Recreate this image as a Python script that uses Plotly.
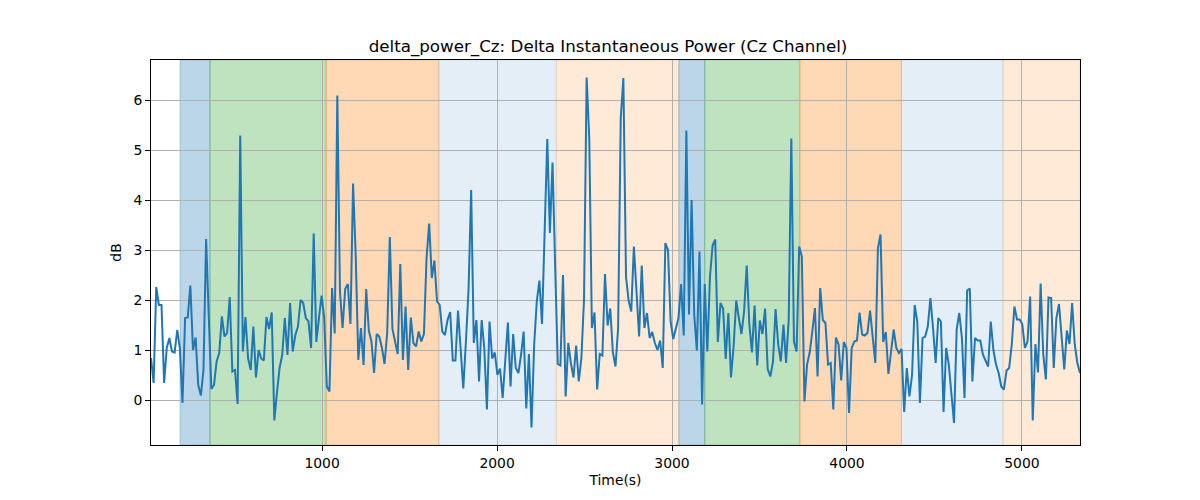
import plotly.graph_objects as go

# Sampling grid of the signal (seconds)
t_start = 22
t_step = 15

# delta power values (dB)
values = [
    0.84, 0.34, 2.26, 1.9, 1.9, 0.34, 1.04, 1.24, 0.97, 0.95, 1.4, 1.04, -0.06, 1.64, 1.65, 2.29, 1.0, 1.25, 0.3, 0.09,
    0.6, 3.22, 1.7, 0.22, 0.3, 0.77, 0.94, 1.67, 1.27, 1.34, 2.06, 0.57, 0.6, -0.08, 5.29, 0.97, 1.66, 0.83, 0.6, 1.47,
    0.45, 1.0,
    0.83, 0.79, 1.66, 1.42, 1.75, -0.41, 0.15, 0.64, 0.9, 1.64, 0.9, 1.94, 0.97, 1.3, 1.47, 2.0, 1.94, 1.64, 1.57, 1.04,
    3.33, 1.16, 1.64, 2.09, 1.64, 0.27, 0.17, 2.24, 1.33, 6.09, 2.17, 1.44, 2.22, 2.32, 1.52, 4.33, 2.9, 0.8, 1.44, 0.7,
    2.22,
    1.39, 1.17, 0.54, 1.32, 1.27, 1.04, 0.72, 1.34, 3.26, 1.42, 1.14, 0.92, 2.72, 0.8, 1.87, 0.6, 1.65, 1.14, 1.07, 1.37,
    1.17, 1.32, 2.84, 3.53, 2.44, 2.79, 1.97, 1.9, 1.37, 1.3, 1.6, 1.76, 0.79, 0.79, 1.79, 1.04, 0.23, 1.17, 2.2, 4.2,
    1.14, 1.6,
    0.37, 1.6, 1.04, -0.19, 1.57, 0.83, 0.95, 0.5, 0.63, 0.04, 0.9, 1.55, 0.27, 1.32, 0.64, 0.54, 0.9, 1.37, -0.17, 0.92,
    -0.55, 1.1, 1.97, 2.39, 1.52, 3.3, 5.22, 3.34, 4.75, 2.7, 0.72, 0.69, 2.5, 0.07, 1.14, 0.74, 0.45, 1.09, 0.37, 0.84,
    2.0, 6.45,
    5.24, 1.44, 1.75, 0.21, 0.92, 0.89, 2.52, 1.49, 1.83, 0.95, 0.67, 1.44, 5.64, 6.44, 2.47, 1.99, 1.77, 3.07, 2.24, 1.27,
    2.69, 1.44, 1.74, 1.24, 1.36, 1.14, 1.0, 1.19, 0.64, 3.14, 3.0, 1.57, 1.22, 1.43, 1.64, 2.32, 1.29, 5.39, 1.71, 4.0,
    1.7, 0.99,
    2.97, -0.09, 2.32, 0.97, 2.47, 3.09, 3.21, 1.16, 1.94, 1.83, 0.82, 1.74, 0.45, 1.07, 1.99, 1.64, 1.32, 1.77, 2.69, 1.52,
    0.95, 1.89, 0.69, 1.59, 1.32, 1.83, 0.62, 0.47, 0.76, 1.82, 1.11, 0.77, 1.51, 0.74, 1.61, 5.23, 1.17, 0.97, 3.07, 2.87,
    -0.03, 0.71,
    0.95, 1.37, 1.84, 0.47, 2.24, 1.6, 1.54, 0.71, 0.74, -0.19, 1.25, 1.11, 0.39, 1.16, 1.04, -0.26, 1.04, 1.17, 1.19, 1.75,
    1.31, 1.29, 1.34, 1.79, 1.24, 0.74, 3.04, 3.31, 1.16, 1.36, 0.52, 1.0, 1.41, 1.04, 0.94, 1.02, -0.24, 0.64, 0.07, 0.5,
    1.9, 1.57, -0.06,
    1.24, 1.27, 1.47, 2.04, 1.44, 0.74, 1.64, 1.57, -0.24, 1.04, 0.71, 0.11, -0.46, 1.41, 1.74, 1.24, 0.04, 2.19, 2.23, 0.37,
    1.24, 1.19, 1.19, 0.91, 0.77, 0.67, 1.57, 1.0, 0.71, 0.54, 0.27, 0.21, 0.59, 0.64, 1.11, 1.87, 1.61, 1.61, 1.52, 1.04,
    1.17,
    2.07, -0.41, 1.12, 0.55, 2.33, 0.91, 0.41, 2.05, 2.04, 0.64, 1.64, 1.92, 1.21, 0.61, 1.39, 1.12, 1.94, 1.11, 0.74, 0.54,
]
times = [t_start + i * t_step for i in range(len(values))]

# Shaded stage intervals (seconds) and their fill colours
span_starts = [188, 359, 1023, 1667, 2339, 3039, 3187, 3731, 4311, 4892]
span_ends = [359, 1023, 1667, 2339, 3039, 3187, 3731, 4311, 4892, 5332]
span_colors = [
    "rgba(31,119,180,0.3)", "rgba(44,160,44,0.3)", "rgba(255,127,14,0.3)",
    "rgba(31,119,180,0.12)", "rgba(255,127,14,0.16)",
    "rgba(31,119,180,0.3)", "rgba(44,160,44,0.3)", "rgba(255,127,14,0.3)",
    "rgba(31,119,180,0.12)", "rgba(255,127,14,0.16)",
]

x_ticks = [1000, 2000, 3000, 4000, 5000]
y_ticks = [0, 1, 2, 3, 4, 5, 6]

fig = go.Figure()
fig.add_trace(go.Scatter(x=times, y=values, mode="lines",
                         line=dict(color="#1f77b4", width=2), showlegend=False))

for s, e, c in zip(span_starts, span_ends, span_colors):
    fig.add_shape(type="rect", xref="x", yref="paper", x0=s, x1=e, y0=0, y1=1,
                  fillcolor=c, line=dict(color=c, width=1), layer="below")

font = "DejaVu Sans"
fig.update_layout(
    width=1200, height=500,
    margin=dict(l=143, r=128, t=52, b=63),
    paper_bgcolor="white", plot_bgcolor="rgba(0,0,0,0)",
    title=dict(text="delta_power_Cz: Delta Instantaneous Power (Cz Channel)",
               x=0.5, xanchor="center", y=0.924, yanchor="middle",
               font=dict(family=font, size=16.7, color="black")),
    font=dict(family=font, size=13.9, color="black"),
)
fig.update_xaxes(
    range=[times[0], times[-1]], tickvals=x_ticks,
    showgrid=True, gridcolor="#b0b0b0", gridwidth=1,
    showline=True, linecolor="black", linewidth=1, mirror=True,
    ticks="outside", ticklen=5, tickcolor="black", zeroline=False,
    title=dict(text="Time(s)", font=dict(family=font, size=13.9), standoff=5),
)
fig.update_yaxes(
    range=[-0.9, 6.8], tickvals=y_ticks,
    showgrid=True, gridcolor="#b0b0b0", gridwidth=1,
    showline=True, linecolor="black", linewidth=1, mirror=True,
    ticks="outside", ticklen=5, tickcolor="black", zeroline=False,
    title=dict(text="dB", font=dict(family=font, size=13.9), standoff=8),
)

fig.write_html("out.html")
